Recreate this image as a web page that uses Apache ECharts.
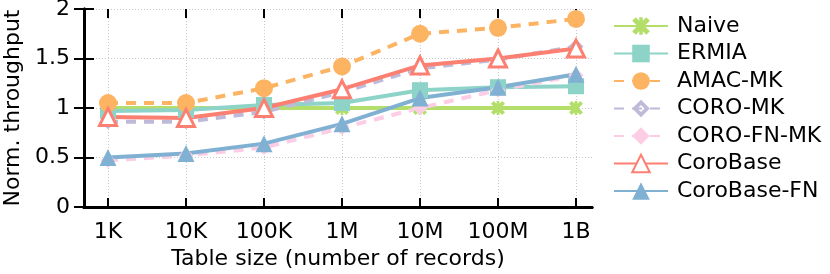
<!DOCTYPE html>
<html><head><meta charset="utf-8">
<script src="https://cdn.jsdelivr.net/npm/echarts@6/dist/echarts.min.js"></script>
<style>html,body{margin:0;padding:0;background:#fff}#c{width:830px;height:274px}</style>
</head><body><div id="c"></div>
<script>
const categories = ['1K','10K','100K','1M','10M','100M','1B'];
const naive      = [1.00, 1.00, 1.00, 1.00, 1.00, 1.00, 1.00];
const ermia      = [0.97, 0.98, 1.03, 1.05, 1.18, 1.21, 1.22];
const amacMK     = [1.05, 1.05, 1.20, 1.42, 1.75, 1.81, 1.90];
const coroMK     = [0.86, 0.86, 0.96, 1.16, 1.40, 1.49, 1.62];
const coroFNMK   = [0.47, 0.52, 0.60, 0.80, 1.00, 1.18, 1.33];
const coroBase   = [0.91, 0.90, 1.00, 1.19, 1.43, 1.50, 1.60];
const coroBaseFN = [0.50, 0.54, 0.64, 0.84, 1.10, 1.21, 1.34];

const FONT = 'DejaVu Sans';
const FS = 22;
const starPath = 'path://M0,2 L2,0 L4,2 L4,0 L6,0 L6,2 L8,0 L10,2 L7,5 L10,8 L8,10 L6,8 L6,10 L4,10 L4,8 L2,10 L0,8 L3,5 Z';
const holDiamond = 'path://M5,0 L10,5 L5,10 L0,5 Z M5,3 L3,5 L5,7 L7,5 Z';

function mk(name, data, color, symbol, size, dashed, itemStyle) {
  return {
    name, type: 'line', data, xAxisIndex: 2, yAxisIndex: 2,
    symbol, symbolSize: size, showSymbol: true,
    lineStyle: { color, width: 4, type: dashed ? [10, 8] : 'solid' },
    itemStyle: itemStyle || { color },
    emphasis: { disabled: true }, animation: false, z: 3
  };
}

const chart = echarts.init(document.getElementById('c'), null, { renderer: 'canvas' });
const gridTop = 9, gridBottom = 67;
const boxAxisLine = { show: true, lineStyle: { color: '#000', width: 3 } };
const gridLine = { show: true, lineStyle: { color: '#c8c8c8', type: [1, 2], width: 1 } };
chart.setOption({
  animation: false,
  textStyle: { fontFamily: FONT },
  grid: [
    { left: 84, right: 238, top: gridTop, bottom: gridBottom, containLabel: false, outerBoundsMode: 'none' },
    { left: 108, right: 254, top: gridTop, bottom: gridBottom, containLabel: false, outerBoundsMode: 'none' }
  ],
  xAxis: [
    { gridIndex: 0, type: 'value', min: 0, max: 1, position: 'bottom', axisLine: boxAxisLine,
      axisTick: { show: false }, axisLabel: { show: false }, splitLine: { show: false },
      name: 'Table size (number of records)', nameLocation: 'middle', nameGap: 41,
      nameTextStyle: { fontFamily: FONT, fontSize: FS, color: '#000' } },
    { gridIndex: 0, type: 'value', min: 0, max: 1, position: 'top', axisLine: boxAxisLine,
      axisTick: { show: false }, axisLabel: { show: false }, splitLine: { show: false } },
    { gridIndex: 1, type: 'category', data: categories, boundaryGap: false, position: 'bottom',
      axisLine: { show: false },
      axisTick: { show: true, inside: true, length: 9, interval: 0, lineStyle: { color: '#000', width: 2 } },
      axisLabel: { fontFamily: FONT, fontSize: FS, color: '#000', margin: 14, interval: 0, hideOverlap: false },
      splitLine: Object.assign({ interval: 0 }, gridLine) },
    { gridIndex: 1, type: 'category', data: categories, boundaryGap: false, position: 'top',
      axisLine: { show: false },
      axisTick: { show: true, inside: true, length: 9, interval: 0, lineStyle: { color: '#000', width: 2 } },
      axisLabel: { show: false }, splitLine: { show: false } }
  ],
  yAxis: [
    { gridIndex: 0, type: 'value', min: 0, max: 2, interval: 0.5, position: 'left',
      axisLine: boxAxisLine,
      axisTick: { show: true, inside: true, length: 10, lineStyle: { color: '#000', width: 2 } },
      axisLabel: { fontFamily: FONT, fontSize: FS, color: '#000', margin: 14, padding: [6, 0, 0, 0],
        formatter: v => String(v) },
      splitLine: gridLine,
      name: 'Norm. throughput', nameLocation: 'middle', nameGap: 57,
      nameTextStyle: { fontFamily: FONT, fontSize: FS, color: '#000' } },
    { gridIndex: 0, type: 'value', min: 0, max: 2, interval: 0.5, position: 'right',
      axisLine: boxAxisLine,
      axisTick: { show: true, inside: true, length: 10, lineStyle: { color: '#000', width: 2 } },
      axisLabel: { show: false }, splitLine: { show: false } },
    { gridIndex: 1, type: 'value', min: 0, max: 2, interval: 0.5, show: false }
  ],
  legend: {
    orient: 'vertical', left: 608, top: 10, itemWidth: 54, itemHeight: 22, itemGap: 5.5,
    textStyle: { fontFamily: FONT, fontSize: FS, lineHeight: 22, color: '#000', padding: [0, 0, 0, 4] },
    selectedMode: false
  },
  series: [
    mk('Naive', naive, '#b3de69', starPath, 14, false),
    mk('ERMIA', ermia, '#8dd3c7', 'rect', 16, false),
    mk('AMAC-MK', amacMK, '#fdb462', 'circle', 18, true),
    mk('CORO-MK', coroMK, '#bebada', holDiamond, 15, true),
    mk('CORO-FN-MK', coroFNMK, '#fccde5', 'diamond', 15, true),
    mk('CoroBase', coroBase, '#fb8072', 'triangle', 17, false, { color: '#fff', borderColor: '#fb8072', borderWidth: 3 }),
    mk('CoroBase-FN', coroBaseFN, '#80b1d3', 'triangle', 17, false)
  ]
});
</script></body></html>
